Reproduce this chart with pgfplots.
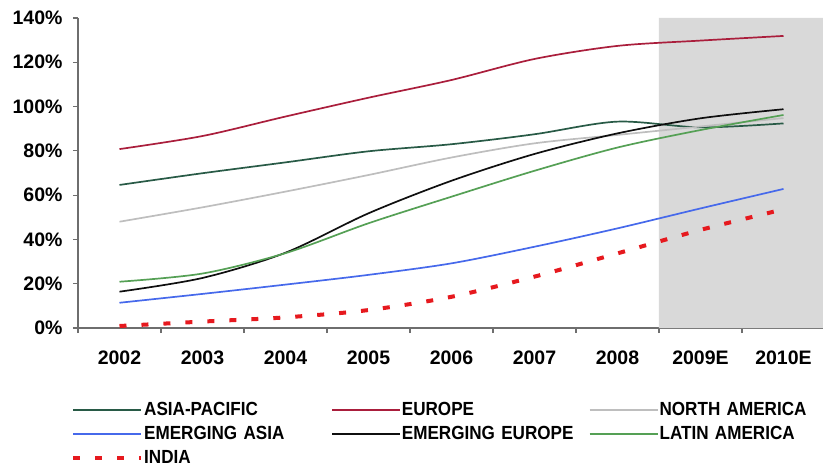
\documentclass[border=0pt]{standalone}
\usepackage{fontspec}
\setmainfont{Liberation Sans}
\newfontfamily\legfont[FakeStretch=0.9]{Liberation Sans}
\usepackage{pgfplots}
\pgfplotsset{compat=1.18}

\definecolor{asiapac}{RGB}{40,90,70}
\definecolor{europe}{RGB}{170,30,60}
\definecolor{northam}{RGB}{190,190,190}
\definecolor{emasia}{RGB}{70,105,235}
\definecolor{emeurope}{RGB}{15,15,15}
\definecolor{latam}{RGB}{85,160,85}
\definecolor{india}{RGB}{230,25,30}
\definecolor{forecast}{RGB}{217,217,217}
\definecolor{axisgray}{RGB}{110,110,110}

\newcommand{\lblfont}{\fontsize{19.5bp}{22bp}\selectfont\bfseries}
\newcommand{\legendfont}{\legfont\fontsize{19bp}{22bp}\selectfont\bfseries\hyphenpenalty=10000}

\begin{document}
\begin{tikzpicture}
\useasboundingbox (0,0) rectangle (823bp,469bp);
\begin{axis}[
  at={(78bp,141bp)}, anchor=south west,
  width=747bp, height=310bp, scale only axis,
  xmin=-0.5, xmax=8.5, ymin=0, ymax=140,
  axis x line*=bottom, axis y line*=left,
  axis line style={draw=axisgray, line width=1.2bp},
  tick align=outside,
  major tick length=5bp,
  tick style={draw=axisgray, line width=1.2bp},
  xtick={-0.5,0.5,1.5,2.5,3.5,4.5,5.5,6.5,7.5},
  xticklabels={2002,2003,2004,2005,2006,2007,2008,2009E,2010E},
  x tick label style={xshift=41.5bp, yshift=-14bp},
  ytick={0,20,40,60,80,100,120,140},
  yticklabels={0\%,20\%,40\%,60\%,80\%,100\%,120\%,140\%},
  y tick label style={xshift=-7bp},
  tick label style={font=\lblfont},
  clip=false,
  every axis plot/.append style={smooth, tension=0.5, line width=1.7bp},
  legend columns=3,
  legend cell align=left,
  legend image code/.code={\draw[#1] (0bp,0bp) -- (68bp,0bp);},
  legend style={
    at={(-0.0094,-0.234)}, anchor=north west,
    draw=none, fill=none, inner sep=0pt,
    column sep=0bp, row sep=5bp,
    font=\legendfont,
    nodes={text width=186bp, align=left, text height=13.5bp, text depth=3.5bp, inner sep=1bp},
  },
]
% forecast period shading
\addplot[fill=forecast, draw=none, line width=0pt, sharp plot, forget plot]
  coordinates {(6.5,0) (8.5,0) (8.5,140) (6.5,140)} \closedcycle;

\addplot[color=asiapac] coordinates {
  (0,64.6) (1,69.9) (2,74.8) (3,79.8) (4,83.0) (5,87.5) (6,93.2) (7,90.6) (8,92.4)};
\addlegendentry{ASIA-PACIFIC}

\addplot[color=europe] coordinates {
  (0,80.8) (1,86.7) (2,95.5) (3,104.0) (4,112.0) (5,121.5) (6,127.4) (7,129.8) (8,131.9)};
\addlegendentry{EUROPE}

\addplot[color=northam] coordinates {
  (0,48.0) (1,54.5) (2,61.6) (3,69.1) (4,77.0) (5,83.4) (6,87.2) (7,91.0) (8,94.8)};
\addlegendentry{NORTH AMERICA}

\addplot[color=emasia] coordinates {
  (0,11.4) (1,15.4) (2,19.6) (3,24.0) (4,29.2) (5,36.7) (6,45.0) (7,54.0) (8,62.8)};
\addlegendentry{EMERGING ASIA}

\addplot[color=emeurope] coordinates {
  (0,16.4) (1,22.6) (2,34.0) (3,51.8) (4,66.5) (5,78.6) (6,87.9) (7,94.7) (8,98.8)};
\addlegendentry{EMERGING EUROPE}

\addplot[color=latam] coordinates {
  (0,20.9) (1,24.6) (2,33.8) (3,47.3) (4,59.3) (5,71.0) (6,81.5) (7,89.4) (8,96.2)};
\addlegendentry{LATIN AMERICA}

\addplot[color=india, line width=4bp, dash pattern=on 7bp off 15bp] coordinates {
  (0,0.9) (1,2.9) (2,4.8) (3,8.1) (4,14.1) (5,23.2) (6,33.7) (7,44.3) (8,53.6)};
\addlegendentry{INDIA}
\end{axis}
\end{tikzpicture}
\end{document}
